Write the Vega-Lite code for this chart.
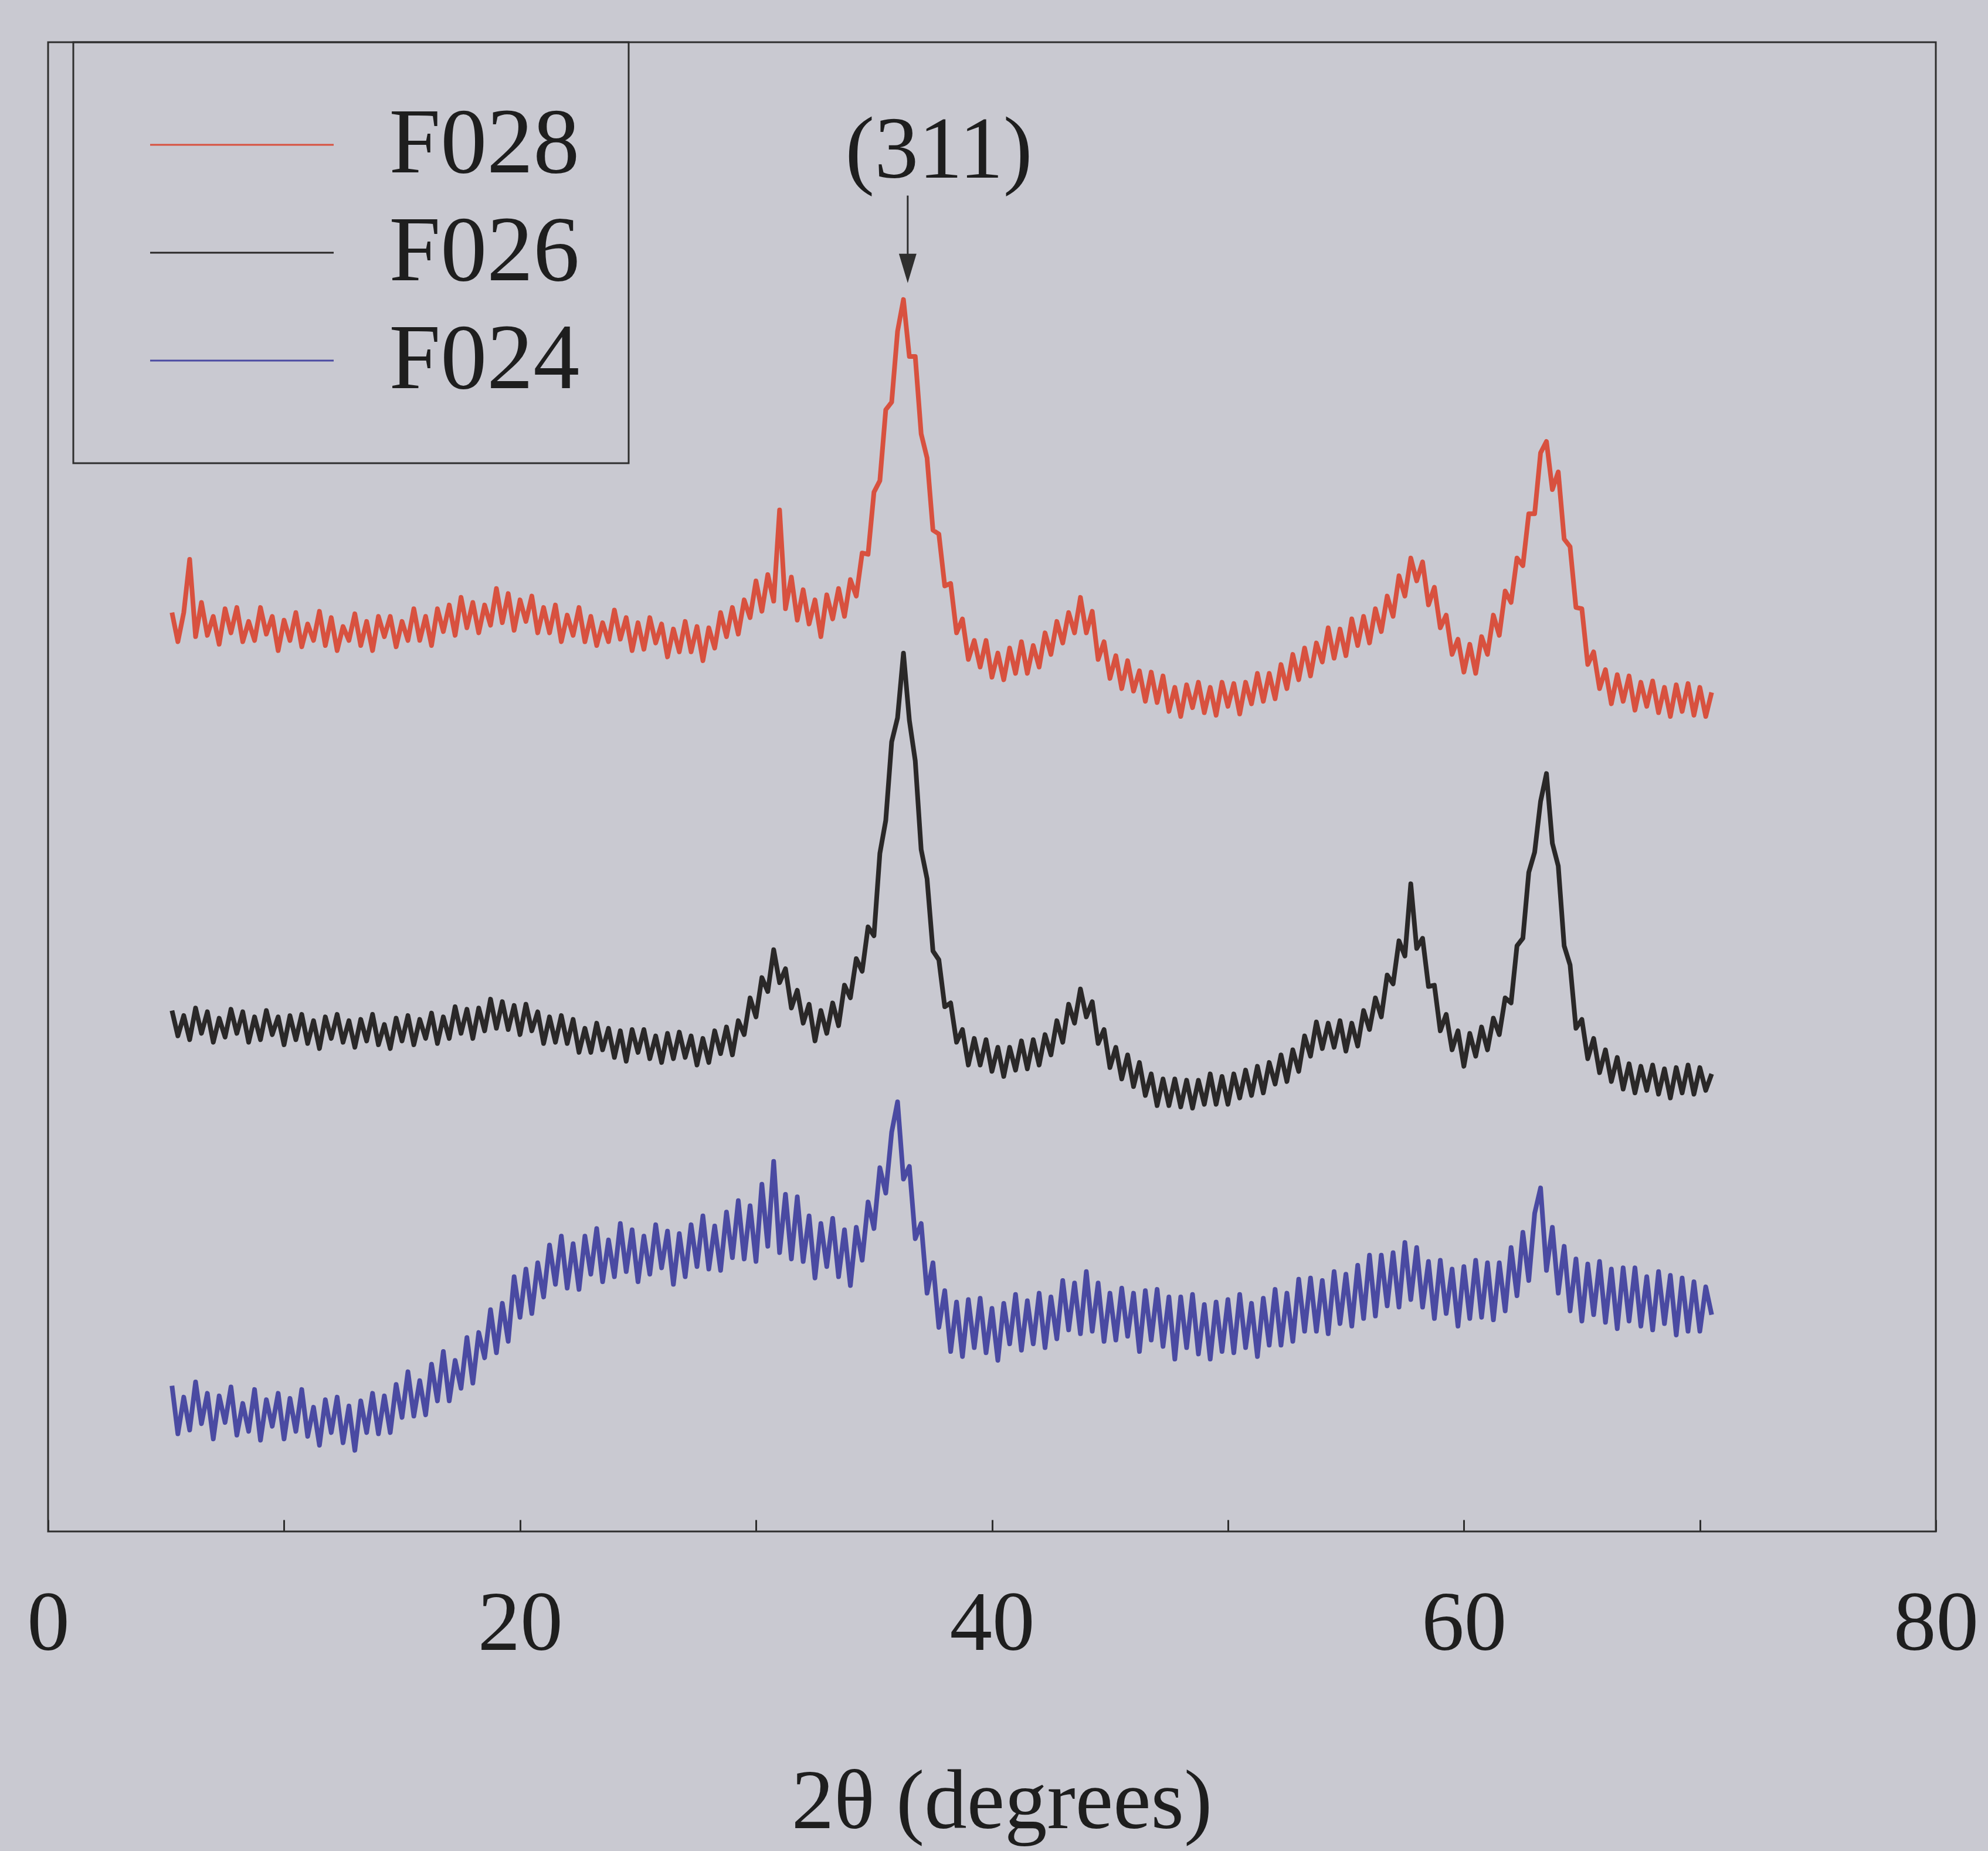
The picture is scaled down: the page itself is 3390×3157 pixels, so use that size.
{
"$schema": "https://vega.github.io/schema/vega-lite/v6.json",
"width": 3219,
"height": 2540,
"autosize": {"type": "none"},
"padding": {"left": 82, "top": 72, "right": 89, "bottom": 545},
"background": "#c9c9d1",
"config": {
  "view": {"stroke": "#2e2e2e", "strokeWidth": 3},
  "font": "Liberation Serif"
},
"layer": [
{
"data": {"values": [
{"x":5.25,"F028":725,"F026":411,"F024":115},
{"x":5.5,"F028":702,"F026":391,"F024":77},
{"x":5.75,"F028":725,"F026":407,"F024":106},
{"x":6.0,"F028":767,"F026":388,"F024":80},
{"x":6.25,"F028":706,"F026":413,"F024":118},
{"x":6.5,"F028":733,"F026":393,"F024":85},
{"x":6.75,"F028":707,"F026":410,"F024":109},
{"x":7.0,"F028":722,"F026":386,"F024":73},
{"x":7.25,"F028":700,"F026":405,"F024":107},
{"x":7.5,"F028":728,"F026":390,"F024":86},
{"x":7.75,"F028":709,"F026":412,"F024":114},
{"x":8.0,"F028":729,"F026":393,"F024":76},
{"x":8.25,"F028":702,"F026":410,"F024":101},
{"x":8.5,"F028":718,"F026":386,"F024":79},
{"x":8.75,"F028":703,"F026":406,"F024":112},
{"x":9.0,"F028":729,"F026":388,"F024":72},
{"x":9.25,"F028":708,"F026":411,"F024":104},
{"x":9.5,"F028":722,"F026":392,"F024":83},
{"x":9.75,"F028":695,"F026":406,"F024":109},
{"x":10.0,"F028":719,"F026":384,"F024":73},
{"x":10.25,"F028":703,"F026":407,"F024":105},
{"x":10.5,"F028":725,"F026":388,"F024":79},
{"x":10.75,"F028":698,"F026":408,"F024":112},
{"x":11.0,"F028":716,"F026":385,"F024":75},
{"x":11.25,"F028":703,"F026":403,"F024":98},
{"x":11.5,"F028":726,"F026":381,"F024":68},
{"x":11.75,"F028":699,"F026":406,"F024":104},
{"x":12.0,"F028":721,"F026":389,"F024":78},
{"x":12.25,"F028":695,"F026":408,"F024":106},
{"x":12.5,"F028":714,"F026":386,"F024":70},
{"x":12.75,"F028":703,"F026":403,"F024":99},
{"x":13.0,"F028":724,"F026":382,"F024":64},
{"x":13.25,"F028":699,"F026":404,"F024":103},
{"x":13.5,"F028":718,"F026":387,"F024":78},
{"x":13.75,"F028":695,"F026":408,"F024":109},
{"x":14.0,"F028":722,"F026":384,"F024":77},
{"x":14.25,"F028":706,"F026":400,"F024":107},
{"x":14.5,"F028":722,"F026":381,"F024":78},
{"x":14.75,"F028":698,"F026":405,"F024":116},
{"x":15.0,"F028":718,"F026":387,"F024":90},
{"x":15.25,"F028":703,"F026":407,"F024":126},
{"x":15.5,"F028":728,"F026":384,"F024":91},
{"x":15.75,"F028":703,"F026":404,"F024":119},
{"x":16.0,"F028":722,"F026":389,"F024":92},
{"x":16.25,"F028":699,"F026":409,"F024":132},
{"x":16.5,"F028":728,"F026":385,"F024":103},
{"x":16.75,"F028":710,"F026":406,"F024":142},
{"x":17.0,"F028":731,"F026":389,"F024":103},
{"x":17.25,"F028":707,"F026":414,"F024":135},
{"x":17.5,"F028":737,"F026":393,"F024":113},
{"x":17.75,"F028":713,"F026":412,"F024":153},
{"x":18.0,"F028":733,"F026":389,"F024":117},
{"x":18.25,"F028":709,"F026":413,"F024":157},
{"x":18.5,"F028":731,"F026":395,"F024":137},
{"x":18.75,"F028":715,"F026":420,"F024":175},
{"x":19.0,"F028":744,"F026":397,"F024":141},
{"x":19.25,"F028":717,"F026":418,"F024":180},
{"x":19.5,"F028":740,"F026":396,"F024":150},
{"x":19.75,"F028":711,"F026":415,"F024":201},
{"x":20.0,"F028":735,"F026":392,"F024":169},
{"x":20.25,"F028":718,"F026":416,"F024":207},
{"x":20.5,"F028":738,"F026":395,"F024":172},
{"x":20.75,"F028":709,"F026":410,"F024":212},
{"x":21.0,"F028":729,"F026":385,"F024":185},
{"x":21.25,"F028":709,"F026":406,"F024":226},
{"x":21.5,"F028":731,"F026":386,"F024":195},
{"x":21.75,"F028":702,"F026":407,"F024":233},
{"x":22.0,"F028":723,"F026":385,"F024":192},
{"x":22.25,"F028":707,"F026":404,"F024":227},
{"x":22.5,"F028":729,"F026":378,"F024":191},
{"x":22.75,"F028":702,"F026":397,"F024":233},
{"x":23.0,"F028":722,"F026":378,"F024":203},
{"x":23.25,"F028":699,"F026":401,"F024":239},
{"x":23.5,"F028":717,"F026":380,"F024":197},
{"x":23.75,"F028":702,"F026":397,"F024":230},
{"x":24.0,"F028":727,"F026":374,"F024":201},
{"x":24.25,"F028":704,"F026":395,"F024":243},
{"x":24.5,"F028":721,"F026":371,"F024":205},
{"x":24.75,"F028":695,"F026":396,"F024":238},
{"x":25.0,"F028":717,"F026":378,"F024":197},
{"x":25.25,"F028":696,"F026":396,"F024":233},
{"x":25.5,"F028":721,"F026":373,"F024":203},
{"x":25.75,"F028":701,"F026":391,"F024":242},
{"x":26.0,"F028":716,"F026":370,"F024":208},
{"x":26.25,"F028":690,"F026":393,"F024":237},
{"x":26.5,"F028":712,"F026":373,"F024":195},
{"x":26.75,"F028":694,"F026":394,"F024":235},
{"x":27.0,"F028":718,"F026":374,"F024":201},
{"x":27.25,"F028":694,"F026":391,"F024":242},
{"x":27.5,"F028":714,"F026":368,"F024":209},
{"x":27.75,"F028":687,"F026":389,"F024":249},
{"x":28.0,"F028":713,"F026":370,"F024":207},
{"x":28.25,"F028":697,"F026":395,"F024":241},
{"x":28.5,"F028":725,"F026":377,"F024":206},
{"x":28.75,"F028":706,"F026":398,"F024":252},
{"x":29.0,"F028":729,"F026":376,"F024":216},
{"x":29.25,"F028":708,"F026":403,"F024":261},
{"x":29.5,"F028":735,"F026":392,"F024":215},
{"x":29.75,"F028":721,"F026":421,"F024":257},
{"x":30.0,"F028":750,"F026":406,"F024":213},
{"x":30.25,"F028":726,"F026":437,"F024":274},
{"x":30.5,"F028":755,"F026":426,"F024":225},
{"x":30.75,"F028":734,"F026":459,"F024":292},
{"x":31.0,"F028":806,"F026":433,"F024":220},
{"x":31.25,"F028":728,"F026":444,"F024":266},
{"x":31.5,"F028":753,"F026":413,"F024":215},
{"x":31.75,"F028":719,"F026":427,"F024":264},
{"x":32.0,"F028":743,"F026":401,"F024":213},
{"x":32.25,"F028":716,"F026":416,"F024":249},
{"x":32.5,"F028":735,"F026":387,"F024":200},
{"x":32.75,"F028":706,"F026":411,"F024":243},
{"x":33.0,"F028":739,"F026":393,"F024":209},
{"x":33.25,"F028":720,"F026":417,"F024":247},
{"x":33.5,"F028":744,"F026":399,"F024":201},
{"x":33.75,"F028":722,"F026":431,"F024":238},
{"x":34.0,"F028":751,"F026":421,"F024":194},
{"x":34.25,"F028":738,"F026":452,"F024":240},
{"x":34.5,"F028":772,"F026":442,"F024":214},
{"x":34.75,"F028":771,"F026":477,"F024":260},
{"x":35.0,"F028":820,"F026":470,"F024":239},
{"x":35.25,"F028":829,"F026":535,"F024":287},
{"x":35.5,"F028":885,"F026":561,"F024":267},
{"x":35.75,"F028":891,"F026":623,"F024":315},
{"x":36.0,"F028":947,"F026":642,"F024":339},
{"x":36.25,"F028":972,"F026":693,"F024":278},
{"x":36.5,"F028":927,"F026":640,"F024":288},
{"x":36.75,"F028":927,"F026":608,"F024":231},
{"x":37.0,"F028":866,"F026":538,"F024":243},
{"x":37.25,"F028":847,"F026":515,"F024":188},
{"x":37.5,"F028":790,"F026":458,"F024":212},
{"x":37.75,"F028":787,"F026":451,"F024":161},
{"x":38.0,"F028":746,"F026":414,"F024":190},
{"x":38.25,"F028":748,"F026":417,"F024":142},
{"x":38.5,"F028":709,"F026":386,"F024":181},
{"x":38.75,"F028":720,"F026":396,"F024":138},
{"x":39.0,"F028":688,"F026":368,"F024":183},
{"x":39.25,"F028":703,"F026":389,"F024":145},
{"x":39.5,"F028":682,"F026":368,"F024":184},
{"x":39.75,"F028":703,"F026":388,"F024":141},
{"x":40.0,"F028":674,"F026":363,"F024":176},
{"x":40.25,"F028":693,"F026":382,"F024":135},
{"x":40.5,"F028":672,"F026":359,"F024":180},
{"x":40.75,"F028":697,"F026":382,"F024":148},
{"x":41.0,"F028":677,"F026":364,"F024":187},
{"x":41.25,"F028":702,"F026":387,"F024":143},
{"x":41.5,"F028":677,"F026":365,"F024":182},
{"x":41.75,"F028":699,"F026":388,"F024":148},
{"x":42.0,"F028":682,"F026":368,"F024":188},
{"x":42.25,"F028":709,"F026":392,"F024":145},
{"x":42.5,"F028":692,"F026":376,"F024":185},
{"x":42.75,"F028":718,"F026":403,"F024":152},
{"x":43.0,"F028":701,"F026":386,"F024":198},
{"x":43.25,"F028":725,"F026":416,"F024":159},
{"x":43.5,"F028":709,"F026":401,"F024":196},
{"x":43.75,"F028":737,"F026":428,"F024":156},
{"x":44.0,"F028":709,"F026":406,"F024":205},
{"x":44.25,"F028":726,"F026":418,"F024":158},
{"x":44.5,"F028":688,"F026":385,"F024":196},
{"x":44.75,"F028":702,"F026":396,"F024":150},
{"x":45.0,"F028":673,"F026":366,"F024":188},
{"x":45.25,"F028":691,"F026":382,"F024":151},
{"x":45.5,"F028":665,"F026":357,"F024":192},
{"x":45.75,"F028":687,"F026":376,"F024":154},
{"x":46.0,"F028":663,"F026":351,"F024":188},
{"x":46.25,"F028":679,"F026":370,"F024":142},
{"x":46.5,"F028":655,"F026":344,"F024":190},
{"x":46.75,"F028":678,"F026":361,"F024":151},
{"x":47.0,"F028":654,"F026":336,"F024":191},
{"x":47.25,"F028":675,"F026":357,"F024":146},
{"x":47.5,"F028":647,"F026":336,"F024":185},
{"x":47.75,"F028":666,"F026":357,"F024":136},
{"x":48.0,"F028":643,"F026":335,"F024":185},
{"x":48.25,"F028":668,"F026":356,"F024":145},
{"x":48.5,"F028":650,"F026":334,"F024":187},
{"x":48.75,"F028":670,"F026":356,"F024":140},
{"x":49.0,"F028":646,"F026":337,"F024":179},
{"x":49.25,"F028":666,"F026":361,"F024":136},
{"x":49.5,"F028":644,"F026":337,"F024":181},
{"x":49.75,"F028":670,"F026":359,"F024":142},
{"x":50.0,"F028":651,"F026":337,"F024":183},
{"x":50.25,"F028":669,"F026":361,"F024":141},
{"x":50.5,"F028":645,"F026":342,"F024":187},
{"x":50.75,"F028":670,"F026":364,"F024":145},
{"x":51.0,"F028":653,"F026":344,"F024":180},
{"x":51.25,"F028":677,"F026":367,"F024":138},
{"x":51.5,"F028":655,"F026":346,"F024":184},
{"x":51.75,"F028":677,"F026":370,"F024":147},
{"x":52.0,"F028":657,"F026":353,"F024":191},
{"x":52.25,"F028":684,"F026":376,"F024":147},
{"x":52.5,"F028":665,"F026":355,"F024":188},
{"x":52.75,"F028":692,"F026":380,"F024":150},
{"x":53.0,"F028":672,"F026":363,"F024":199},
{"x":53.25,"F028":697,"F026":391,"F024":158},
{"x":53.5,"F028":675,"F026":375,"F024":200},
{"x":53.75,"F028":701,"F026":402,"F024":158},
{"x":54.0,"F028":686,"F026":381,"F024":198},
{"x":54.25,"F028":713,"F026":401,"F024":156},
{"x":54.5,"F028":689,"F026":382,"F024":205},
{"x":54.75,"F028":712,"F026":403,"F024":164},
{"x":55.0,"F028":691,"F026":379,"F024":203},
{"x":55.25,"F028":720,"F026":401,"F024":162},
{"x":55.5,"F028":699,"F026":383,"F024":210},
{"x":55.75,"F028":722,"F026":411,"F024":168},
{"x":56.0,"F028":701,"F026":396,"F024":218},
{"x":56.25,"F028":728,"F026":421,"F024":170},
{"x":56.5,"F028":710,"F026":406,"F024":218},
{"x":56.75,"F028":738,"F026":439,"F024":178},
{"x":57.0,"F028":722,"F026":432,"F024":220},
{"x":57.25,"F028":754,"F026":466,"F024":177},
{"x":57.5,"F028":738,"F026":454,"F024":228},
{"x":57.75,"F028":768,"F026":511,"F024":183},
{"x":58.0,"F028":750,"F026":460,"F024":224},
{"x":58.25,"F028":765,"F026":468,"F024":177},
{"x":58.5,"F028":731,"F026":430,"F024":213},
{"x":58.75,"F028":745,"F026":431,"F024":168},
{"x":59.0,"F028":713,"F026":395,"F024":214},
{"x":59.25,"F028":723,"F026":408,"F024":172},
{"x":59.5,"F028":692,"F026":380,"F024":207},
{"x":59.75,"F028":704,"F026":395,"F024":162},
{"x":60.0,"F028":678,"F026":367,"F024":209},
{"x":60.25,"F028":700,"F026":393,"F024":168},
{"x":60.5,"F028":677,"F026":375,"F024":214},
{"x":60.75,"F028":706,"F026":398,"F024":169},
{"x":61.0,"F028":692,"F026":380,"F024":212},
{"x":61.25,"F028":723,"F026":405,"F024":167},
{"x":61.5,"F028":707,"F026":392,"F024":212},
{"x":61.75,"F028":742,"F026":421,"F024":174},
{"x":62.0,"F028":733,"F026":417,"F024":224},
{"x":62.25,"F028":768,"F026":462,"F024":186},
{"x":62.5,"F028":762,"F026":468,"F024":236},
{"x":62.75,"F028":803,"F026":520,"F024":198},
{"x":63.0,"F028":803,"F026":536,"F024":251},
{"x":63.25,"F028":851,"F026":576,"F024":271},
{"x":63.5,"F028":860,"F026":598,"F024":206},
{"x":63.75,"F028":822,"F026":543,"F024":240},
{"x":64.0,"F028":836,"F026":525,"F024":188},
{"x":64.25,"F028":783,"F026":462,"F024":225},
{"x":64.5,"F028":777,"F026":447,"F024":174},
{"x":64.75,"F028":729,"F026":397,"F024":215},
{"x":65.0,"F028":728,"F026":404,"F024":166},
{"x":65.25,"F028":684,"F026":373,"F024":211},
{"x":65.5,"F028":694,"F026":389,"F024":171},
{"x":65.75,"F028":665,"F026":362,"F024":213},
{"x":66.0,"F028":680,"F026":380,"F024":165},
{"x":66.25,"F028":653,"F026":355,"F024":207},
{"x":66.5,"F028":676,"F026":374,"F024":160},
{"x":66.75,"F028":655,"F026":349,"F024":208},
{"x":67.0,"F028":675,"F026":369,"F024":166},
{"x":67.25,"F028":648,"F026":346,"F024":208},
{"x":67.5,"F028":670,"F026":367,"F024":162},
{"x":67.75,"F028":651,"F026":348,"F024":201},
{"x":68.0,"F028":671,"F026":368,"F024":159},
{"x":68.25,"F028":646,"F026":345,"F024":205},
{"x":68.5,"F028":666,"F026":365,"F024":164},
{"x":68.75,"F028":643,"F026":342,"F024":202},
{"x":69.0,"F028":668,"F026":366,"F024":155},
{"x":69.25,"F028":647,"F026":346,"F024":200},
{"x":69.5,"F028":669,"F026":368,"F024":158},
{"x":69.75,"F028":644,"F026":345,"F024":197},
{"x":70.0,"F028":666,"F026":366,"F024":158},
{"x":70.25,"F028":643,"F026":348,"F024":193},
{"x":70.5,"F028":662,"F026":361,"F024":171}
]},
"transform": [{"fold": ["F028", "F026", "F024"], "as": ["sample", "intensity"]}],
"mark": {"type": "line", "strokeWidth": 8, "strokeJoin": "round"},
"encoding": {
  "x": {"field": "x", "type": "quantitative",
    "scale": {"domain": [0, 80], "nice": false, "zero": false},
    "axis": {"values": [0, 10, 20, 30, 40, 50, 60, 70, 80],
      "labelExpr": "datum.value % 20 === 0 ? datum.label : ''",
      "grid": false, "domain": false, "labelFlush": false,
      "tickSize": -20, "tickColor": "#2e2e2e", "tickWidth": 3,
      "labelFont": "Liberation Serif", "labelFontSize": 145, "labelColor": "#1e1e1e", "labelPadding": 106,
      "title": "2θ (degrees)", "titleFont": "Liberation Serif", "titleFontSize": 145, "titleFontWeight": "normal",
      "titleColor": "#1e1e1e", "titleX": 1626, "titleY": 505, "titleAlign": "center", "titleBaseline": "alphabetic", "titleAnchor": "start"}},
  "y": {"field": "intensity", "type": "quantitative",
    "scale": {"domain": [0, 1175], "nice": false, "zero": false}, "axis": null},
  "color": {"field": "sample", "type": "nominal",
    "scale": {"domain": ["F028", "F026", "F024"], "range": ["#d8513f", "#2a2828", "#4a4aa2"]},
    "legend": {"title": null, "orient": "none", "legendX": 43, "legendY": 0,
      "symbolType": "stroke", "symbolSize": 97969, "symbolStrokeWidth": 3,
      "labelFont": "Liberation Serif", "labelFontSize": 158, "labelColor": "#1e1e1e",
      "labelOffset": 93, "symbolOffset": 46.5, "clipHeight": 184, "rowPadding": 0,
      "padding": 83, "strokeColor": "#2e2e2e", "labelLimit": 0,
      "encode": {"legend": {"update": {"strokeWidth": {"value": 3}}}}}}
}
},
{
"data": {"values": [{"x": 36.43, "y": 1054, "y2": 1005}]},
"mark": {"type": "rule", "color": "#2e2e2e", "strokeWidth": 3},
"encoding": {
  "x": {"field": "x", "type": "quantitative"},
  "y": {"field": "y", "type": "quantitative"},
  "y2": {"field": "y2"}
}
},
{
"data": {"values": [{"x": 36.43, "y": 996.5}]},
"mark": {"type": "point", "shape": "M-0.6,-1L0.6,-1L0,1Z", "size": 2500, "filled": true, "color": "#2e2e2e", "opacity": 1},
"encoding": {
  "x": {"field": "x", "type": "quantitative"},
  "y": {"field": "y", "type": "quantitative"}
}
},
{
"data": {"values": [{"x": 37.75, "y": 1089, "label": "(311)"}]},
"mark": {"type": "text", "font": "Liberation Serif", "fontSize": 150, "color": "#1e1e1e", "baseline": "middle", "align": "center"},
"encoding": {
  "x": {"field": "x", "type": "quantitative"},
  "y": {"field": "y", "type": "quantitative"},
  "text": {"field": "label"}
}
}
]
}
